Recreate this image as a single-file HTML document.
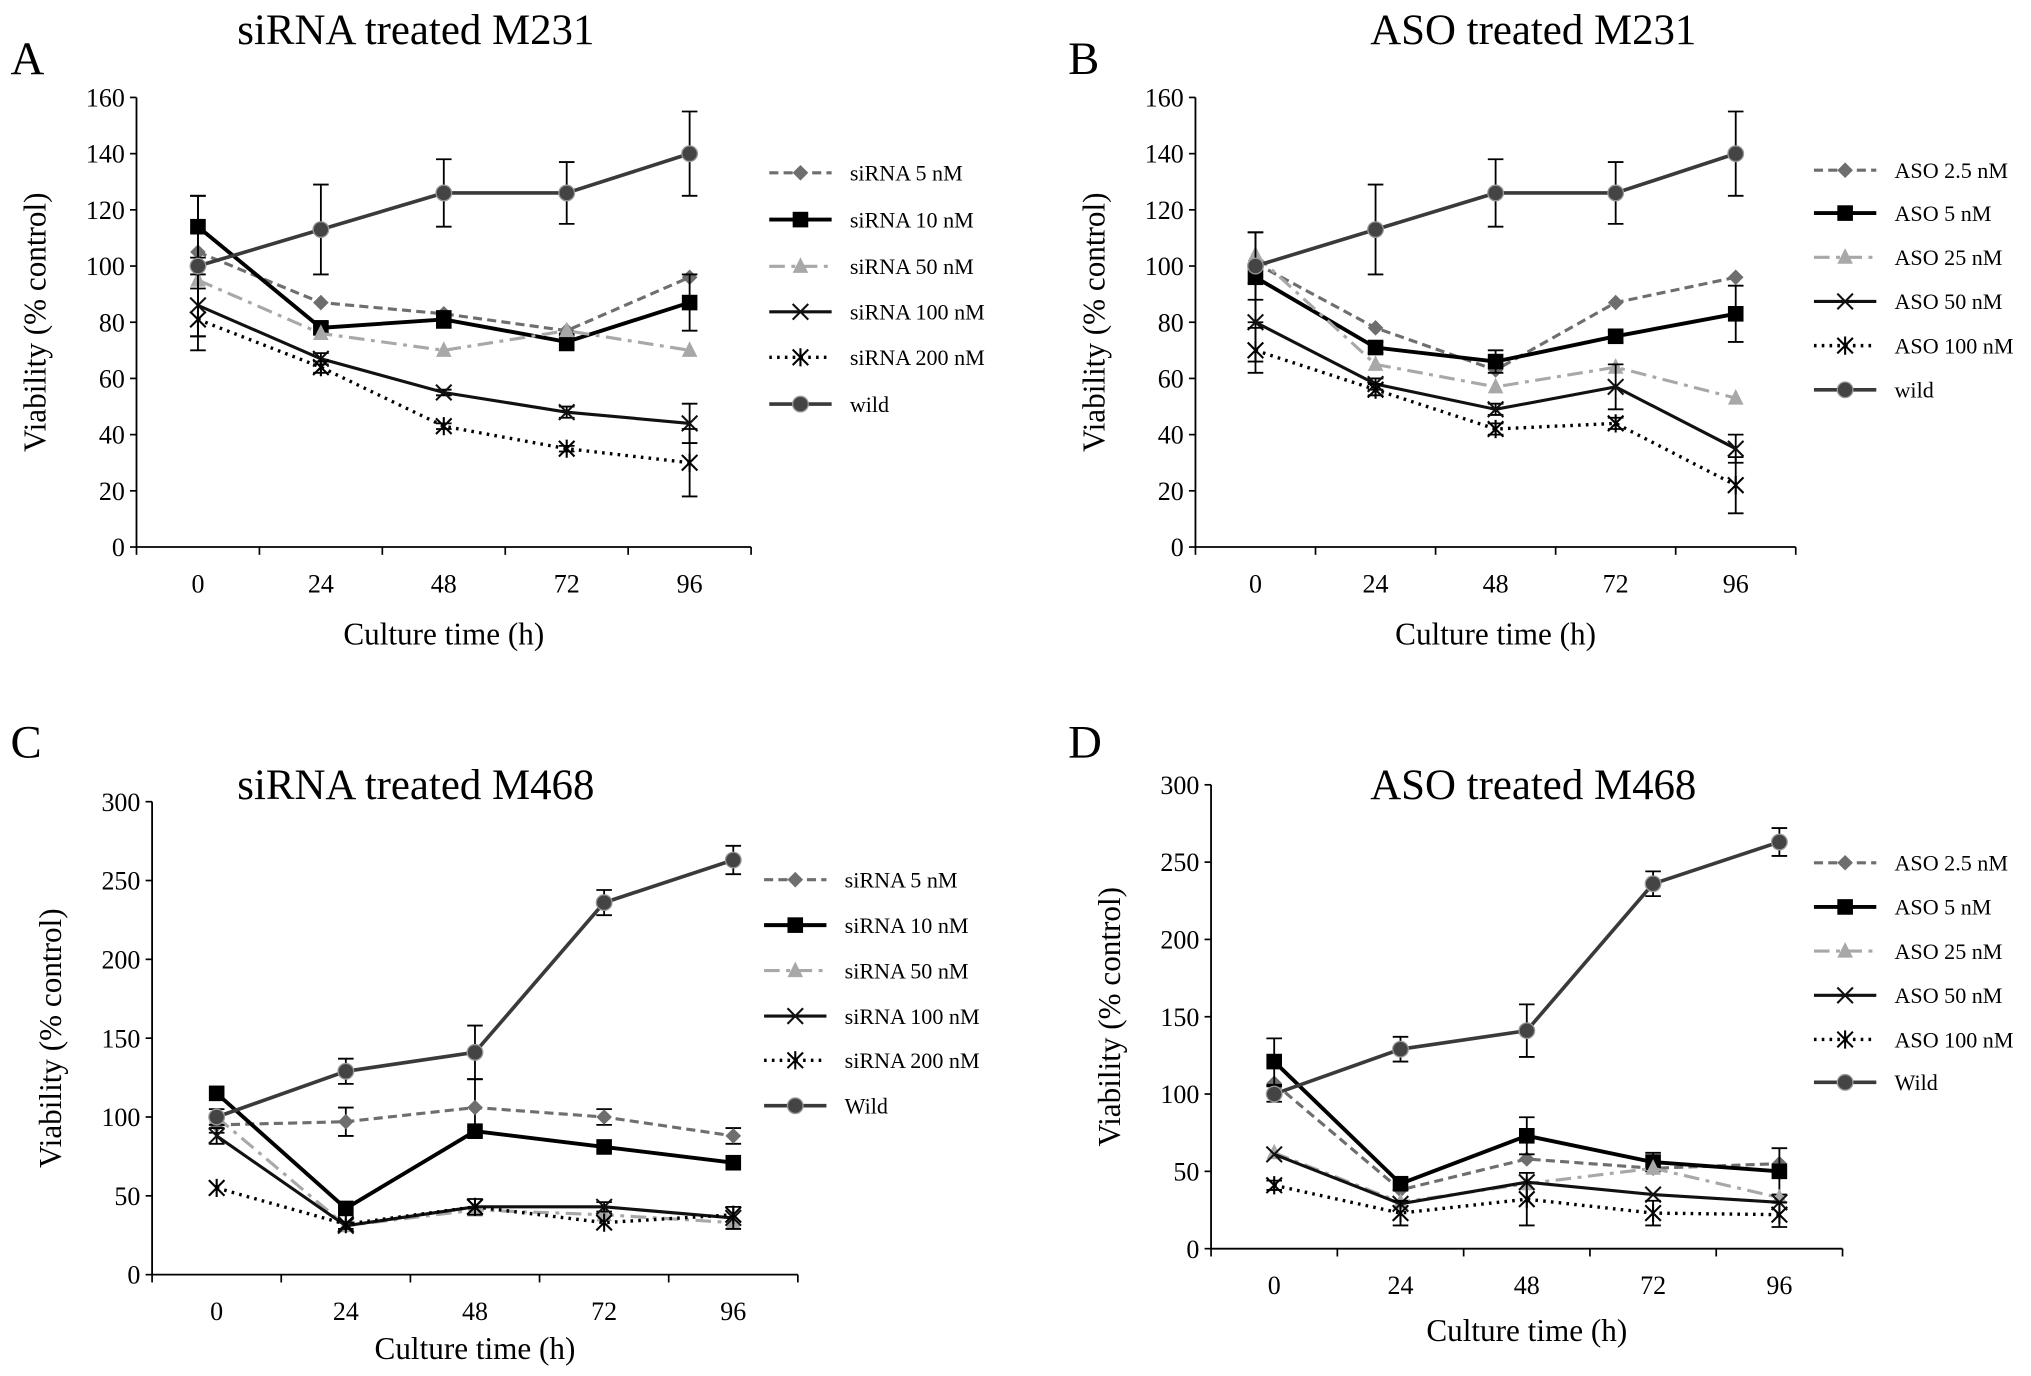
<!DOCTYPE html>
<html><head><meta charset="utf-8"><style>
html,body{margin:0;padding:0;background:#fff;}
svg{display:block;font-family:"Liberation Serif",serif;}
</style></head><body>
<svg id="fig" width="2031" height="1376" viewBox="0 0 1563 1059" xmlns="http://www.w3.org/2000/svg"></svg>
<script>
const categories = ["0","24","48","72","96"];
const ticksA = [0,20,40,60,80,100,120,140,160];
const ticksC = [0,50,100,150,200,250,300];
// Panel A
const aNames = ["siRNA 5 nM","siRNA 10 nM","siRNA 50 nM","siRNA 100 nM","siRNA 200 nM","wild"];
const aS1 = [105,87,83,77,96];
const aS2 = [114,78,81,73,87];
const aS3 = [95,76,70,77,70];
const aS4 = [86,67,55,48,44];
const aS5 = [81,64,43,35,30];
const aS6 = [100,113,126,126,140];
const aE2 = [11,2,3,3,10];
const aE4 = [11,2,1,2,7];
const aE5 = [11,2,1,1,12];
const aE6 = [25,16,12,11,15];
// Panel B
const bNames = ["ASO 2.5 nM","ASO 5 nM","ASO 25 nM","ASO 50 nM","ASO 100 nM","wild"];
const bS1 = [101,78,63,87,96];
const bS2 = [96,71,66,75,83];
const bS3 = [104,65,57,64,53];
const bS4 = [80,58,49,57,35];
const bS5 = [70,56,42,44,22];
const bS6 = [100,113,126,126,140];
const bE2 = [16,2,4,2,10];
const bE4 = [14,2,2,8,5];
const bE5 = [8,2,2,2,10];
const bE6 = [12,16,12,11,15];
// Panel C
const cNames = ["siRNA 5 nM","siRNA 10 nM","siRNA 50 nM","siRNA 100 nM","siRNA 200 nM","Wild"];
const cS1 = [95,97,106,100,88];
const cS2 = [115,42,91,81,71];
const cS3 = [100,31,41,38,33];
const cS4 = [88,31,43,43,36];
const cS5 = [55,32,43,33,38];
const cS6 = [100,129,141,236,263];
const cE1 = [5,9,18,5,5];
const cE4 = [5,2,5,3,7];
const cE6 = [5,8,17,8,9];
// Panel D
const dNames = ["ASO 2.5 nM","ASO 5 nM","ASO 25 nM","ASO 50 nM","ASO 100 nM","Wild"];
const dS1 = [107,38,58,52,55];
const dS2 = [121,42,73,56,50];
const dS3 = [62,30,42,52,33];
const dS4 = [61,29,43,35,30];
const dS5 = [41,23,32,23,22];
const dS6 = [100,129,141,236,263];
const dE2 = [15,4,12,6,15];
const dE5 = [3,8,17,8,8];
const dE6 = [5,8,17,8,9];

const NS="http://www.w3.org/2000/svg";
const svg=document.getElementById('fig');
function mk(tag,attrs,parent){const e=document.createElementNS(NS,tag);for(const k in attrs)e.setAttribute(k,attrs[k]);(parent||svg).appendChild(e);return e;}
function txt(s,attrs,parent){const e=mk('text',attrs,parent);e.textContent=s;return e;}

const styles=[
 {stroke:'#6e6e6e',dash:'7,4',w:2.4,m:'diamond',fill:'#6e6e6e'},
 {stroke:'#000',dash:'',w:3,m:'square',fill:'#000'},
 {stroke:'#a8a8a8',dash:'12,5,3,5',w:2.4,m:'triangle',fill:'#a8a8a8'},
 {stroke:'#111',dash:'',w:2.4,m:'x',fill:'none'},
 {stroke:'#000',dash:'2,4',w:2.6,m:'star',fill:'none'},
 {stroke:'#3a3a3a',dash:'',w:2.8,m:'circle',fill:'#444'}
];
function marker(g,m,x,y,st){
 if(m==='diamond')mk('polygon',{points:`${x},${y-6} ${x+6},${y} ${x},${y+6} ${x-6},${y}`,fill:st.fill},g);
 else if(m==='square')mk('rect',{x:x-6,y:y-6,width:12,height:12,fill:st.fill},g);
 else if(m==='triangle')mk('polygon',{points:`${x},${y-7} ${x+6},${y+5} ${x-6},${y+5}`,fill:st.fill},g);
 else if(m==='x'){mk('path',{d:`M${x-6} ${y-6}L${x+6} ${y+6}M${x+6} ${y-6}L${x-6} ${y+6}`,stroke:st.stroke,'stroke-width':1.6},g);}
 else if(m==='star'){mk('path',{d:`M${x-6} ${y-6}L${x+6} ${y+6}M${x+6} ${y-6}L${x-6} ${y+6}M${x} ${y-7}L${x} ${y+7}`,stroke:'#000','stroke-width':1.6},g);}
 else if(m==='circle')mk('circle',{cx:x,cy:y,r:6,fill:st.fill,stroke:'#999','stroke-width':1},g);
}

function panel(p){
 const g=mk('g',{});
 
 
 const L=p.ax,R=p.right,Y0=p.y0,Ytop=p.ytop,ymax=p.ticks[p.ticks.length-1];
 const yS=v=>Y0-(v/ymax)*(Y0-Ytop);
 const bw=(R-L)/categories.length;
 const xS=i=>L+bw*(i+0.5);
 const lt=txt(p.id,{x:p.lx,y:p.ly,'font-size':36},g);
  
 const tt=txt(p.title,{x:p.tx,y:p.ty,'font-size':33,'text-anchor':'middle'},g);
  
 const ax=mk('path',{d:`M${L} ${Ytop}L${L} ${Y0}L${R} ${Y0}`,stroke:'#000','stroke-width':1.4,fill:'none'},g);
  
 p.ticks.forEach(v=>{
  const y=yS(v);
  mk('line',{x1:L-5,x2:L,y1:y,y2:y,stroke:'#000','stroke-width':1.3},g);
  const t=txt(String(v),{x:L-9,y:y+7,'font-size':20,'text-anchor':'end'},g);
   
 });
 for(let i=0;i<=categories.length;i++){const x=L+bw*i;mk('line',{x1:x,x2:x,y1:Y0,y2:Y0+6,stroke:'#000','stroke-width':1.3},g);}
 categories.forEach((c,i)=>{
  const t=txt(c,{x:xS(i),y:Y0+35,'font-size':20,'text-anchor':'middle'},g);
   
 });
 const xl=txt('Culture time (h)',{x:(L+R)/2,y:Y0+p.xlOff,'font-size':24,'text-anchor':'middle'},g);
  
 const cy=(Y0+Ytop)/2;
 const yl=txt('Viability (% control)',{x:0,y:0,'font-size':24,'text-anchor':'middle',transform:`translate(${L-70},${cy}) rotate(-90)`},g);
  
 p.series.forEach((s,k)=>{
  const st=styles[k];
  const sg=mk('g',{},g);
  
  
  const err=p.errs[k];
  if(err){s.forEach((v,i)=>{const x=xS(i),a=yS(v+err[i]),b=yS(v-err[i]);
   mk('path',{d:`M${x} ${a}L${x} ${b}M${x-6} ${a}L${x+6} ${a}M${x-6} ${b}L${x+6} ${b}`,stroke:'#000','stroke-width':1.4,fill:'none'},sg);});}
  mk('polyline',{points:s.map((v,i)=>xS(i)+','+yS(v)).join(' '),fill:'none',stroke:st.stroke,'stroke-width':st.w,'stroke-dasharray':st.dash},sg);
  s.forEach((v,i)=>marker(sg,st.m,xS(i),yS(v),st));
  const ly=p.legY[k];
  const lg=mk('g',{},g);
   
  mk('line',{x1:p.legX,x2:p.legX+48,y1:ly,y2:ly,stroke:st.stroke,'stroke-width':st.w,'stroke-dasharray':st.dash},lg);
  marker(lg,st.m,p.legX+24,ly,st);
  txt(p.names[k],{x:p.legX+62,y:ly+6,'font-size':17},lg);
 });
}
panel({id:'A',title:'siRNA treated M231',lx:8,ly:57,tx:320,ty:34,ax:105,right:578,y0:421,ytop:75,xlOff:75,ticks:ticksA,names:aNames,
 series:[aS1,aS2,aS3,aS4,aS5,aS6],errs:[null,aE2,null,aE4,aE5,aE6],legX:592,legY:[133,169,205,240,275,311]});
panel({id:'B',title:'ASO treated M231',lx:822,ly:57,tx:1180,ty:34,ax:920,right:1382,y0:421,ytop:75,xlOff:75,ticks:ticksA,names:bNames,
 series:[bS1,bS2,bS3,bS4,bS5,bS6],errs:[null,bE2,null,bE4,bE5,bE6],legX:1396,legY:[131,164,198,232,266,300]});
panel({id:'C',title:'siRNA treated M468',lx:8,ly:583,tx:320,ty:615,ax:117,right:614,y0:981,ytop:617,xlOff:65,ticks:ticksC,names:cNames,
 series:[cS1,cS2,cS3,cS4,cS5,cS6],errs:[cE1,null,null,cE4,null,cE6],legX:588,legY:[677,712,747,782,816,851]});
panel({id:'D',title:'ASO treated M468',lx:822,ly:583,tx:1180,ty:615,ax:932,right:1418,y0:961,ytop:604,xlOff:71,ticks:ticksC,names:dNames,
 series:[dS1,dS2,dS3,dS4,dS5,dS6],errs:[null,dE2,null,null,dE5,dE6],legX:1396,legY:[664,698,732,766,800,833]});
</script>
</body></html>
